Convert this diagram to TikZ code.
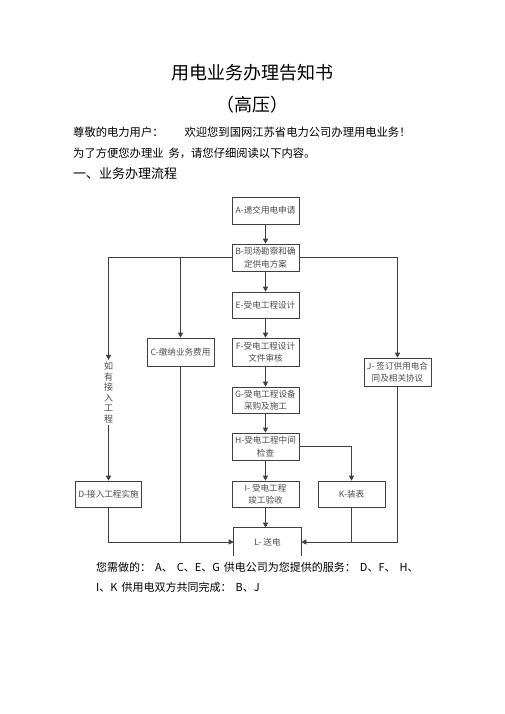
\documentclass[tikz,border=0pt]{standalone}
\usepackage{fontspec}
\setmainfont{Noto Sans CJK SC}
\usetikzlibrary{arrows.meta}
\tikzset{
  box/.style={shape=rectangle,draw=black!75,line width=0.6pt,minimum width=67pt,
    minimum height=27pt,inner sep=1pt,align=center,text=black!70,
    font=\fontsize{8.6}{12.5}\selectfont},
  line/.style={draw=black!75,line width=0.6pt},
  arr/.style={line,-{Triangle[length=5pt,width=5pt]}}
}
\begin{document}
\begin{tikzpicture}[x=1pt,y=-1pt]
\useasboundingbox (0,0) rectangle (505,714);
% heading and lead-in text
\node (title) at (252,73) [font=\fontsize{18}{20}\selectfont] {用电业务办理告知书};
\node (kind) at (252,105) [font=\fontsize{18}{20}\selectfont] {（高压）};
\node (l1) at (73,132) [anchor=west,inner sep=0pt,font=\fontsize{11.3}{13}\selectfont]
  {尊敬的电力用户：\hspace{21pt}欢迎您到国网江苏省电力公司办理用电业务！};
\node (l2) at (73,153) [anchor=west,inner sep=0pt,font=\fontsize{11.3}{13}\selectfont]
  {为了方便您办理业\hspace{5pt}务，请您仔细阅读以下内容。};
\node (l3) at (73,174) [anchor=west,inner sep=0pt,font=\fontsize{13}{15}\selectfont]
  {一、业务办理流程};
% flow boxes
\node (A) at (265.5,210.5) [box] {A-递交用电申请};
\node (B) at (265.5,257.5) [box] {B-现场勘察和确\\定供电方案};
\node (E) at (265.5,305) [box,minimum height=26pt] {E-受电工程设计};
\node (F) at (265.5,352) [box,minimum height=28pt] {F-受电工程设计\\文件审核};
\node (G) at (265.5,400) [box,minimum height=26pt] {G-受电工程设备\\采购及施工};
\node (H) at (265.5,446.5) [box] {H-受电工程中间\\检查};
\node (I) at (265.5,494) [box,minimum height=26pt] {I- 受电工程\\竣工验收};
\node (L) at (267.5,542) [box,draw=none,minimum height=28pt] {L- 送电};
\node (C) at (180.5,352) [box,minimum height=28pt] {C-缴纳业务费用};
\node (D) at (108.5,494) [box,minimum width=66pt,minimum height=26pt] {D-接入工程实施};
\node (K) at (351.5,494) [box,minimum height=26pt] {K-装表};
\node (J) at (397.5,372) [box,minimum height=28pt] {J- 签订供用电合\\同及相关协议};
\node (ask) at (108.5,392.5) [align=center,inner sep=2pt,text=black!70,
  font=\fontsize{9}{10.5}\selectfont] {如\\有\\接\\入\\工\\程};
% L is open at the bottom
\draw [line] (L.south west) -- (L.north west) -- (L.north east) -- (L.south east);
% connectors
\draw [arr] (A) -- (B);
\draw [arr] (B) -- (E);
\draw [arr] (E) -- (F);
\draw [arr] (F) -- (G);
\draw [arr] (G) -- (H);
\draw [arr] (H) -- (I);
\draw [arr] (I.south) -- (I.south |- L.north);
\draw [arr] (B.west) -| (ask.north);
\draw [arr] (C.north |- B.west) -- (C.north);
\draw [arr] (ask.south) -- (D.north);
\draw [arr] (B.east) -| (J.north);
\draw [arr] (H.east) -| (K.north);
\draw [arr] (D.south) |- (L.west);
\draw [line] (C.south) -- (C.south |- L.west);
\draw [arr] (J.south) |- (L.east);
\draw [line] (K.south) -- (K.south |- L.east);
% closing text
\node (n1) at (96,567) [anchor=west,inner sep=0pt,font=\fontsize{11}{13}\selectfont]
  {您需做的：\hspace{4pt}A、\hspace{4pt}C、E、G\hspace{4pt}供电公司为您提供的服务：\hspace{4pt}D、F、\hspace{4pt}H、};
\node (n2) at (96,587) [anchor=west,inner sep=0pt,font=\fontsize{11}{13}\selectfont]
  {I、K\hspace{4pt}供用电双方共同完成：\hspace{4pt}B、J};
\end{tikzpicture}
\end{document}
